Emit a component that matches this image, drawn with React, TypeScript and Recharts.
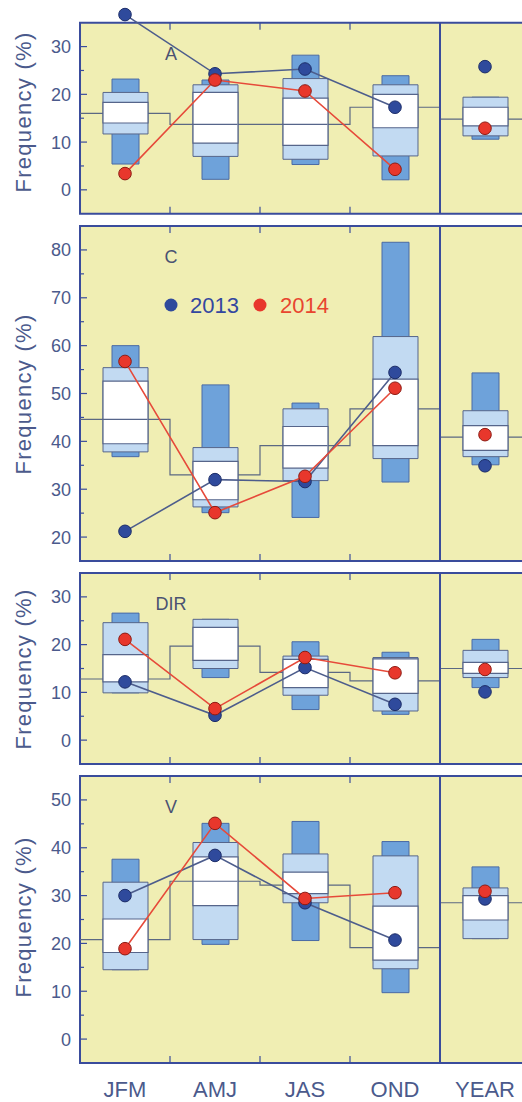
import React from 'react';
import { ComposedChart, Bar, Line, XAxis, YAxis, ReferenceArea, ReferenceLine } from 'recharts';

const SEASONS = ['JFM', 'AMJ', 'JAS', 'OND', 'YEAR'];

// panel A
const aMin = [5.4, 2.2, 5.3, 2.1, 10.6];
const aMax = [23.2, 23.0, 28.2, 23.9, 19.4];
const aLo = [11.7, 7.0, 6.4, 7.1, 11.3];
const aHi = [20.4, 22.0, 23.3, 22.0, 19.4];
const aQ1 = [14.0, 9.8, 9.3, 13.0, 13.4];
const aQ3 = [18.3, 20.4, 19.2, 20.0, 17.3];
const aMed = [null, 13.7, 13.7, null, null];
const aMean = [16.0, 13.7, 13.7, 17.3, 14.8];
const a2013 = [36.7, 24.3, 25.3, 17.3, 25.8];
const a2014 = [3.4, 23.0, 20.7, 4.3, 12.9];
const aTicks = [0, 5, 10, 15, 20, 25, 30];

// panel C
const cMin = [36.8, 25.1, 24.1, 31.5, 35.1];
const cMax = [60.0, 51.8, 48.0, 81.6, 54.3];
const cLo = [37.8, 26.3, 31.8, 36.4, 36.8];
const cHi = [55.4, 38.7, 46.8, 61.9, 46.4];
const cQ1 = [39.5, 27.8, 34.4, 39.1, 38.1];
const cQ3 = [52.6, 35.8, 43.1, 53.0, 43.3];
const cMed = [44.6, null, 39.1, null, null];
const cMean = [44.6, 33.0, 39.1, 46.8, 40.9];
const c2013 = [21.2, 32.0, 31.6, 54.4, 34.9];
const c2014 = [56.7, 25.1, 32.7, 51.1, 41.4];
const cTicks = [20, 25, 30, 35, 40, 45, 50, 55, 60, 65, 70, 75, 80];

// panel DIR
const dMin = [9.9, 13.1, 6.4, 5.4, 11.0];
const dMax = [26.6, 25.3, 20.6, 18.4, 21.1];
const dLo = [9.9, 15.0, 9.4, 6.1, 13.1];
const dHi = [24.6, 25.3, 17.6, 17.3, 18.8];
const dQ1 = [12.2, 16.7, 11.0, 9.8, 14.0];
const dQ3 = [17.9, 23.6, 16.9, 17.0, 16.3];
const dMed = [null, null, null, null, null];
const dMean = [12.8, 19.7, 14.2, 12.4, 15.0];
const d2013 = [12.2, 5.2, 15.2, 7.5, 10.1];
const d2014 = [21.1, 6.6, 17.3, 14.1, 14.8];
const dTicks = [0, 5, 10, 15, 20, 25, 30];

// panel V
const vMin = [14.5, 19.8, 20.6, 9.7, 21.0];
const vMax = [37.6, 45.1, 45.5, 41.3, 36.0];
const vLo = [14.5, 20.8, 28.5, 14.7, 21.0];
const vHi = [32.8, 41.1, 38.7, 38.3, 31.6];
const vQ1 = [18.1, 27.9, 30.4, 16.5, 24.9];
const vQ3 = [25.1, 38.1, 34.9, 27.8, 30.0];
const vMed = [null, 33.0, null, null, null];
const vMean = [20.8, 33.0, 32.2, 19.1, 28.5];
const v2013 = [30.0, 38.4, 28.5, 20.7, 29.3];
const v2014 = [18.9, 45.1, 29.4, 30.6, 30.9];
const vTicks = [0, 5, 10, 15, 20, 25, 30, 35, 40, 45, 50];

const BG = '#f0eeb3';
const FRAME = '#3a4c9c';
const DARK = '#6ea2da';
const DARK_EDGE = '#4a6aa5';
const LIGHT = '#c2daf2';
const EDGE = '#56658a';
const STEP = '#5b6883';
const BLUE = '#2f4a9c';
const BLUE_LINE = '#4d5d8c';
const RED = '#e8372c';
const RED_LINE = '#e64a3a';
const TEXT = '#4b5a8c';
const FONT = '"Liberation Sans", Arial, Helvetica, sans-serif';

const PANELS = [
  { name: 'A', top: 23, bottom: 214, yMin: -5, yMax: 35, yTop: 38.5, labelY: 112, ticks: aTicks,
    min: aMin, max: aMax, lo: aLo, hi: aHi, q1: aQ1, q3: aQ3, med: aMed, mean: aMean, v13: a2013, v14: a2014 },
  { name: 'C', top: 226, bottom: 561, yMin: 15, yMax: 85, yTop: 85, labelY: 394, ticks: cTicks,
    min: cMin, max: cMax, lo: cLo, hi: cHi, q1: cQ1, q3: cQ3, med: cMed, mean: cMean, v13: c2013, v14: c2014 },
  { name: 'DIR', top: 573, bottom: 764, yMin: -5, yMax: 35, yTop: 35, labelY: 669, ticks: dTicks,
    min: dMin, max: dMax, lo: dLo, hi: dHi, q1: dQ1, q3: dQ3, med: dMed, mean: dMean, v13: d2013, v14: d2014 },
  { name: 'V', top: 776, bottom: 1063, yMin: -5, yMax: 55, yTop: 55, labelY: 917, ticks: vTicks, labels: true,
    min: vMin, max: vMax, lo: vLo, hi: vHi, q1: vQ1, q3: vQ3, med: vMed, mean: vMean, v13: v2013, v14: v2014 },
];

const YTick = (props: any) => {
  const { x, y, payload } = props;
  const ax = x + 9;
  const major = payload.value % 10 === 0;
  return (
    <g>
      <line x1={ax} x2={ax + (major ? 7 : 4)} y1={y} y2={y} stroke={FRAME} strokeWidth={1.2} />
      {major && (
        <text x={x} y={y} dy="0.36em" textAnchor="end" fill={TEXT} fontSize={18} fontFamily={FONT}>
          {payload.value}
        </text>
      )}
    </g>
  );
};

const XTick = (props: any) => {
  const { x, y, payload } = props;
  return (
    <text x={x} y={y} dy="0.72em" textAnchor="middle" fill={TEXT} fontSize={22} fontFamily={FONT}>
      {payload.value}
    </text>
  );
};

const MedianMark = (props: any) => {
  const { cx, cy, index } = props;
  if (cy == null || isNaN(cy)) return <g key={`md-${index}`} />;
  return <line key={`md-${index}`} x1={cx - 22.5} x2={cx + 22.5} y1={cy} y2={cy} stroke={EDGE} strokeWidth={1.2} />;
};

function PanelChart({ p }: { p: any }) {
  const ppu = (p.bottom - p.top) / (p.yMax - p.yMin);
  const plotTop = p.top - (p.yTop - p.yMax) * ppu;
  const mt = 4;
  const mb = 4;
  const axisH = p.labels ? 34 : 0;
  const h = p.bottom - plotTop + mt + mb + axisH;
  const tl = 7 / ppu;

  const rows = SEASONS.map((s, i) => ({
    s,
    range: [p.min[i], p.max[i]],
    outer: [p.lo[i], p.hi[i]],
    inner: [p.q1[i], p.q3[i]],
    med: p.med[i],
    d13: p.v13[i],
    d14: p.v14[i],
    l13: i < 4 ? p.v13[i] : null,
    l14: i < 4 ? p.v14[i] : null,
  }));
  const stepRows = [0, 1, 2, 3, 4, 5].map((k) => ({ x: k, m: p.mean[Math.min(k, 4)] }));

  return (
    <div style={{ position: 'absolute', left: 0, top: plotTop - mt }}>
      <ComposedChart width={540} height={h} data={rows} margin={{ top: mt, right: 10, bottom: mb, left: 0 }}>
        <XAxis
          xAxisId="w"
          type="category"
          dataKey="s"
          hide={!p.labels}
          height={axisH}
          tickLine={false}
          axisLine={false}
          tickSize={0}
          tickMargin={18}
          interval={0}
          tick={<XTick />}
        />
        <XAxis xAxisId="n" type="number" dataKey="x" domain={[0, 5]} hide height={0} />
        <XAxis xAxisId="d" type="category" dataKey="s" hide height={0} />
        <XAxis xAxisId="l" type="category" dataKey="s" hide height={0} />
        <YAxis
          type="number"
          domain={[p.yMin, p.yTop]}
          ticks={p.ticks}
          interval={0}
          width={80}
          axisLine={false}
          tickLine={false}
          tickSize={0}
          tickMargin={9}
          tick={<YTick />}
        />
        <ReferenceArea
          xAxisId="n"
          x1={0}
          x2={5}
          y1={p.yMin}
          y2={p.yMax}
          fill={BG}
          fillOpacity={1}
          stroke={FRAME}
          strokeWidth={2}
          zIndex={10}
        />
        <Line
          xAxisId="n"
          data={stepRows}
          dataKey="m"
          type="stepAfter"
          stroke={STEP}
          strokeWidth={1.2}
          dot={false}
          activeDot={false}
          isAnimationActive={false}
          zIndex={20}
        />
        <Bar xAxisId="d" dataKey="range" barSize={27} fill={DARK} stroke={DARK_EDGE} strokeWidth={1} isAnimationActive={false} zIndex={30} />
        <Bar xAxisId="l" dataKey="outer" barSize={45} fill={LIGHT} stroke={EDGE} strokeWidth={1} isAnimationActive={false} zIndex={40} />
        <Bar xAxisId="w" dataKey="inner" barSize={45} fill="#ffffff" stroke={EDGE} strokeWidth={1.2} isAnimationActive={false} zIndex={50} />
        <Line xAxisId="w" dataKey="med" stroke="none" dot={MedianMark} activeDot={false} isAnimationActive={false} zIndex={60} />
        <ReferenceLine
          xAxisId="n"
          segment={[{ x: 4, y: p.yMin }, { x: 4, y: p.yMax }]}
          stroke={FRAME}
          strokeWidth={2}
          zIndex={70}
        />
        {[1, 2, 3].map((k) => (
          <ReferenceLine
            key={`tb${k}`}
            xAxisId="n"
            segment={[{ x: k, y: p.yMin }, { x: k, y: p.yMin + tl }]}
            stroke={FRAME}
            strokeWidth={1.2}
            zIndex={70}
          />
        ))}
        {[1, 2, 3].map((k) => (
          <ReferenceLine
            key={`tt${k}`}
            xAxisId="n"
            segment={[{ x: k, y: p.yMax }, { x: k, y: p.yMax - tl }]}
            stroke={FRAME}
            strokeWidth={1.2}
            zIndex={70}
          />
        ))}
        <Line xAxisId="w" dataKey="l13" stroke={BLUE_LINE} strokeWidth={1.6} dot={false} activeDot={false} isAnimationActive={false} zIndex={80} />
        <Line xAxisId="w" dataKey="l14" stroke={RED_LINE} strokeWidth={1.6} dot={false} activeDot={false} isAnimationActive={false} zIndex={90} />
        <Line
          xAxisId="w"
          dataKey="d13"
          stroke="none"
          dot={{ r: 6.3, fill: BLUE, stroke: '#1d2d68', strokeWidth: 1 }}
          activeDot={false}
          isAnimationActive={false}
          zIndex={100}
        />
        <Line
          xAxisId="w"
          dataKey="d14"
          stroke="none"
          dot={{ r: 6.3, fill: RED, stroke: '#8c1c14', strokeWidth: 1 }}
          activeDot={false}
          isAnimationActive={false}
          zIndex={110}
        />
      </ComposedChart>
    </div>
  );
}

export default function App() {
  return (
    <div
      style={{
        position: 'absolute',
        left: 0,
        top: 0,
        width: 522,
        height: 1102,
        overflow: 'hidden',
        background: '#ffffff',
        fontFamily: FONT,
      }}
    >
      {PANELS.map((p) => (
        <PanelChart key={p.name} p={p} />
      ))}
      <svg width={522} height={1102} style={{ position: 'absolute', left: 0, top: 0, pointerEvents: 'none' }}>
        {PANELS.map((p) => (
          <g key={`lab-${p.name}`}>
            <text
              transform={`translate(23, ${p.labelY}) rotate(-90)`}
              textAnchor="middle"
              dominantBaseline="central"
              fill={TEXT}
              fontSize={22}
              letterSpacing={1.3}
              fontFamily={FONT}
            >
              Frequency (%)
            </text>
            <text x={171} y={p.top + 36.5} textAnchor="middle" fill="#4a5272" fontSize={18} fontFamily={FONT}>
              {p.name}
            </text>
          </g>
        ))}
        <circle cx={171} cy={305} r={6.5} fill={BLUE} />
        <text x={190} y={313} fill="#3347a0" fontSize={22} fontFamily={FONT}>
          2013
        </text>
        <circle cx={260} cy={305} r={6.5} fill={RED} />
        <text x={280} y={313} fill="#e8452f" fontSize={22} fontFamily={FONT}>
          2014
        </text>
      </svg>
    </div>
  );
}
